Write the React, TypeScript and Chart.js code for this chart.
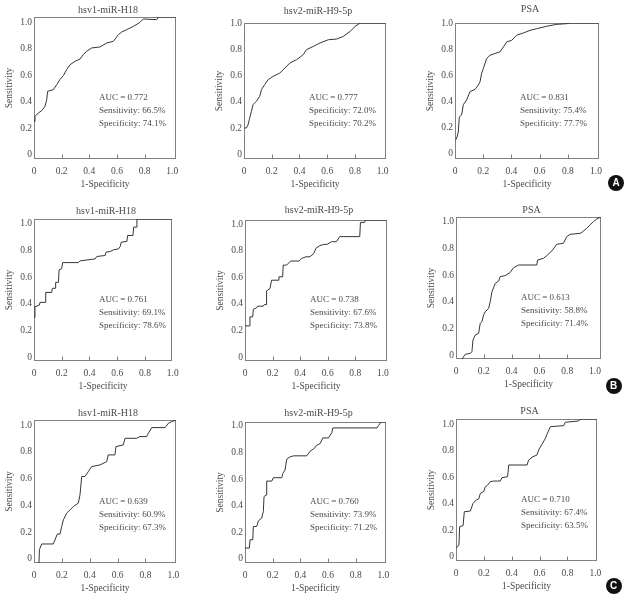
import React, { useEffect, useRef } from 'react';
import { Chart, registerables } from 'chart.js';

Chart.register(...registerables);

// ---------- axis ticks ----------
const TICK_VALUES = [0, 0.2, 0.4, 0.6, 0.8, 1.0];
const TICK_LABELS = ['0', '0.2', '0.4', '0.6', '0.8', '1.0'];
const INNER_TICK_VALUES = [0.2, 0.4, 0.6, 0.8];

// ---------- categories ----------
const MARKERS = ['hsv1-miR-H18', 'hsv2-miR-H9-5p', 'PSA'];
const COHORT_LABELS = ['A', 'B', 'C'];

// ---------- annotation values (row-major: A1..A3, B1..B3, C1..C3) ----------
const AUC = [0.772, 0.777, 0.831, 0.761, 0.738, 0.613, 0.639, 0.76, 0.71];
const LINE2 = [
  'Sensitivity: 66.5%', 'Specificity: 72.0%', 'Sensitivity: 75.4%',
  'Sensitivity: 69.1%', 'Sensitivity: 67.6%', 'Sensitivity: 58.8%',
  'Sensitivity: 60.9%', 'Sensitivity: 73.9%', 'Sensitivity: 67.4%',
];
const LINE3 = [
  'Specificity: 74.1%', 'Specificity: 70.2%', 'Specificity: 77.7%',
  'Specificity: 78.6%', 'Specificity: 73.8%', 'Specificity: 71.4%',
  'Specificity: 67.3%', 'Specificity: 71.2%', 'Specificity: 63.5%',
];

// ---------- ROC curves ----------
const A1_FPR = [0, 0.007, 0.03, 0.054, 0.077, 0.09, 0.096, 0.136, 0.16, 0.183, 0.207, 0.23, 0.254, 0.289, 0.324, 0.347, 0.37, 0.406, 0.465, 0.512, 0.559, 0.594, 0.617, 0.653, 0.7, 0.746, 0.77, 0.864, 0.876, 1];
const A1_TPR = [0.265, 0.3, 0.324, 0.34, 0.37, 0.42, 0.477, 0.488, 0.523, 0.56, 0.587, 0.63, 0.664, 0.688, 0.704, 0.735, 0.758, 0.782, 0.789, 0.817, 0.829, 0.876, 0.894, 0.911, 0.934, 0.962, 0.986, 0.981, 1, 1];

const A2_FPR = [0, 0.017, 0.028, 0.04, 0.052, 0.064, 0.087, 0.11, 0.123, 0.146, 0.17, 0.205, 0.252, 0.288, 0.323, 0.37, 0.417, 0.44, 0.488, 0.535, 0.594, 0.653, 0.7, 0.748, 0.783, 0.818, 1];
const A2_TPR = [0.228, 0.228, 0.25, 0.3, 0.35, 0.4, 0.424, 0.46, 0.51, 0.547, 0.583, 0.608, 0.632, 0.669, 0.706, 0.73, 0.767, 0.804, 0.828, 0.853, 0.877, 0.882, 0.902, 0.939, 0.975, 1, 1];

const A3_FPR = [0.005, 0.012, 0.023, 0.03, 0.046, 0.058, 0.081, 0.104, 0.139, 0.162, 0.174, 0.185, 0.197, 0.22, 0.243, 0.278, 0.312, 0.336, 0.359, 0.394, 0.428, 0.475, 0.521, 0.567, 0.637, 0.706, 0.775, 0.8, 1];
const A3_TPR = [0.141, 0.154, 0.2, 0.31, 0.324, 0.4, 0.434, 0.495, 0.512, 0.544, 0.568, 0.63, 0.666, 0.739, 0.763, 0.776, 0.788, 0.824, 0.861, 0.873, 0.91, 0.927, 0.946, 0.958, 0.976, 0.99, 0.995, 1, 1];

const B1_FPR = [0, 0.007, 0.007, 0.039, 0.044, 0.08, 0.085, 0.128, 0.133, 0.153, 0.157, 0.177, 0.182, 0.2, 0.208, 0.322, 0.334, 0.443, 0.455, 0.516, 0.523, 0.552, 0.576, 0.613, 0.625, 0.632, 0.673, 0.678, 0.717, 0.722, 0.741, 0.746, 1];
const B1_TPR = [0.307, 0.307, 0.382, 0.394, 0.413, 0.413, 0.483, 0.483, 0.512, 0.512, 0.554, 0.554, 0.642, 0.649, 0.693, 0.693, 0.705, 0.719, 0.736, 0.743, 0.767, 0.771, 0.783, 0.79, 0.807, 0.837, 0.842, 0.884, 0.884, 0.943, 0.943, 1, 1];

const B2_FPR = [0, 0.03, 0.035, 0.054, 0.059, 0.082, 0.089, 0.129, 0.136, 0.148, 0.152, 0.176, 0.187, 0.234, 0.239, 0.265, 0.269, 0.293, 0.321, 0.382, 0.398, 0.429, 0.457, 0.485, 0.499, 0.527, 0.555, 0.578, 0.609, 0.644, 0.667, 0.808, 0.813, 0.843, 0.848, 1];
const B2_TPR = [0.249, 0.249, 0.313, 0.313, 0.367, 0.377, 0.389, 0.389, 0.4, 0.4, 0.498, 0.514, 0.573, 0.573, 0.597, 0.597, 0.68, 0.68, 0.709, 0.709, 0.727, 0.739, 0.739, 0.763, 0.799, 0.818, 0.827, 0.827, 0.846, 0.846, 0.882, 0.882, 0.983, 0.983, 1, 1];

const B3_FPR = [0.041, 0.064, 0.099, 0.11, 0.117, 0.133, 0.156, 0.167, 0.179, 0.19, 0.202, 0.225, 0.236, 0.248, 0.271, 0.294, 0.305, 0.339, 0.374, 0.397, 0.431, 0.557, 0.562, 0.603, 0.626, 0.661, 0.695, 0.741, 0.764, 0.787, 0.856, 0.874, 0.901, 0.924, 0.947, 0.97, 1];
const B3_TPR = [0, 0.033, 0.04, 0.052, 0.134, 0.169, 0.181, 0.251, 0.263, 0.31, 0.333, 0.357, 0.404, 0.474, 0.533, 0.549, 0.58, 0.587, 0.61, 0.643, 0.662, 0.662, 0.697, 0.709, 0.728, 0.761, 0.808, 0.815, 0.862, 0.878, 0.885, 0.897, 0.92, 0.944, 0.967, 0.986, 1];

const C1_FPR = [0.035, 0.038, 0.054, 0.136, 0.164, 0.183, 0.195, 0.207, 0.23, 0.254, 0.277, 0.312, 0.324, 0.336, 0.359, 0.383, 0.406, 0.465, 0.512, 0.523, 0.57, 0.577, 0.629, 0.641, 0.723, 0.746, 0.793, 0.805, 0.829, 0.923, 0.946, 0.969, 1];
const C1_TPR = [0, 0.093, 0.133, 0.133, 0.202, 0.202, 0.256, 0.302, 0.349, 0.372, 0.395, 0.419, 0.477, 0.605, 0.605, 0.64, 0.674, 0.686, 0.709, 0.756, 0.756, 0.814, 0.826, 0.872, 0.872, 0.884, 0.884, 0.907, 0.947, 0.947, 0.977, 0.988, 1];

const C2_FPR = [0, 0.031, 0.036, 0.055, 0.059, 0.083, 0.095, 0.118, 0.13, 0.135, 0.149, 0.154, 0.19, 0.201, 0.261, 0.268, 0.284, 0.296, 0.32, 0.344, 0.438, 0.462, 0.491, 0.509, 0.533, 0.552, 0.592, 0.616, 0.623, 0.936, 0.948, 0.964, 1];
const C2_TPR = [0.106, 0.106, 0.165, 0.165, 0.259, 0.259, 0.299, 0.318, 0.365, 0.471, 0.482, 0.581, 0.581, 0.605, 0.605, 0.635, 0.659, 0.736, 0.753, 0.76, 0.76, 0.793, 0.812, 0.835, 0.847, 0.887, 0.887, 0.925, 0.958, 0.958, 0.976, 1, 1];

const C3_FPR = [0, 0.012, 0.021, 0.026, 0.05, 0.059, 0.102, 0.121, 0.144, 0.161, 0.173, 0.196, 0.208, 0.225, 0.243, 0.267, 0.314, 0.326, 0.366, 0.374, 0.504, 0.515, 0.546, 0.574, 0.586, 0.61, 0.634, 0.645, 0.669, 0.764, 0.775, 0.87, 0.882, 1];
const C3_TPR = [0.094, 0.101, 0.117, 0.242, 0.249, 0.347, 0.352, 0.406, 0.43, 0.437, 0.477, 0.488, 0.523, 0.535, 0.559, 0.563, 0.563, 0.587, 0.594, 0.676, 0.676, 0.711, 0.735, 0.746, 0.782, 0.822, 0.864, 0.892, 0.946, 0.953, 0.977, 0.986, 1, 1];

const CURVES = [
  [A1_FPR, A1_TPR], [A2_FPR, A2_TPR], [A3_FPR, A3_TPR],
  [B1_FPR, B1_TPR], [B2_FPR, B2_TPR], [B3_FPR, B3_TPR],
  [C1_FPR, C1_TPR], [C2_FPR, C2_TPR], [C3_FPR, C3_TPR],
];

// ---------- layout (page px) ----------
const LAYOUT = [
  { box: [34, 17, 176, 159], titleY: 10, xMax: 1.027, yMin: -0.033, yMax: 1.041 },
  { box: [244, 23, 386, 159], titleY: 11, xMax: 1.024, yMin: -0.033, yMax: 1.0 },
  { box: [455, 23, 599, 159], titleY: 9, xMax: 1.021, yMin: -0.041, yMax: 1.0 },
  { box: [34, 219, 172, 361], titleY: 211.5, xMax: 0.995, yMin: -0.03, yMax: 1.037 },
  { box: [245, 220, 387, 361], titleY: 210, xMax: 1.03, yMin: -0.03, yMax: 1.033 },
  { box: [456, 217, 601, 359], titleY: 210, xMax: 1.043, yMin: -0.03, yMax: 1.035 },
  { box: [34, 420, 176, 563], titleY: 413, xMax: 1.019, yMin: -0.032, yMax: 1.039 },
  { box: [245, 422, 386, 563], titleY: 413, xMax: 1.019, yMin: -0.033, yMax: 1.03 },
  { box: [456, 419, 597, 561], titleY: 411.5, xMax: 1.012, yMin: -0.033, yMax: 1.041 },
];
const CIRCLES = [
  { x: 616, y: 183 },
  { x: 613.5, y: 385.5 },
  { x: 613.5, y: 586 },
];

const LM = 34, TM = 22, RM = 10, BM = 34;
const SERIF = '"Liberation Serif", "Times New Roman", serif';
const TEXT = '#4a4a4a';
const BOX = '#808080';
const CURVE = '#353535';

function Panel({ idx }: { idx: number }) {
  const ref = useRef<HTMLCanvasElement | null>(null);
  const L = LAYOUT[idx];
  const [bl, bt, br, bb] = L.box;
  const W = br - bl + LM + RM;
  const H = bb - bt + TM + BM;
  const canvasLeft = bl - LM;
  const canvasTop = bt - TM;

  useEffect(() => {
    const [fpr, tpr] = CURVES[idx];
    const points = fpr.map((x, i) => ({ x, y: tpr[i] }));
    const title = MARKERS[idx % 3];
    const lines = ['AUC = ' + AUC[idx].toFixed(3), LINE2[idx], LINE3[idx]];

    const deco = {
      id: 'deco',
      beforeDatasetsDraw(chart: any) {
        const { ctx, chartArea } = chart;
        const { left, top, right, bottom } = chartArea;
        ctx.save();
        ctx.strokeStyle = BOX;
        ctx.lineWidth = 1;
        ctx.strokeRect(left + 0.5, top + 0.5, right - left - 1, bottom - top - 1);
        const xl = chart.scales.xl;
        ctx.beginPath();
        for (const v of INNER_TICK_VALUES) {
          const px = Math.round(xl.getPixelForValue(v)) + 0.5;
          ctx.moveTo(px, bottom - 0.5);
          ctx.lineTo(px, bottom - 4.5);
        }
        ctx.stroke();
        ctx.restore();
      },
      afterDraw(chart: any) {
        const { ctx, chartArea } = chart;
        const { left, right, bottom } = chartArea;
        ctx.save();
        ctx.fillStyle = TEXT;
        ctx.textBaseline = 'middle';
        ctx.textAlign = 'center';
        ctx.font = '10px ' + SERIF;
        ctx.fillText(title, (left + right) / 2 + 3, L.titleY - canvasTop);
        ctx.textAlign = 'left';
        ctx.font = '9px ' + SERIF;
        lines.forEach((t, i) => {
          ctx.fillText(t, left + 65, bottom - 61 + i * 13);
        });
        ctx.restore();
      },
    };

    const tickFont = { family: SERIF, size: 9.5 };
    const titleFont = { family: SERIF, size: 9.5 };

    const chart = new Chart(ref.current as HTMLCanvasElement, {
      type: 'line',
      data: {
        datasets: [
          {
            data: points,
            xAxisID: 'x',
            yAxisID: 'y',
            borderColor: CURVE,
            borderWidth: 1,
            pointRadius: 0,
            tension: 0,
            fill: false,
          },
        ],
      },
      options: {
        responsive: false,
        animation: false,
        devicePixelRatio: 1,
        layout: { padding: { left: 0, top: TM, right: RM, bottom: 0 } },
        plugins: { legend: { display: false }, tooltip: { enabled: false }, title: { display: false } },
        scales: {
          x: { type: 'linear', min: 0, max: 1, display: false },
          y: { type: 'linear', min: 0, max: 1, display: false },
          xl: {
            type: 'linear',
            axis: 'x',
            position: 'bottom',
            min: 0,
            max: L.xMax,
            afterBuildTicks: (s: any) => {
              s.ticks = TICK_VALUES.map((v) => ({ value: v }));
            },
            afterFit: (s: any) => {
              s.height = BM;
              s.paddingLeft = 0;
              s.paddingRight = 0;
            },
            grid: { display: false, drawTicks: false },
            border: { display: false },
            ticks: {
              autoSkip: false,
              maxRotation: 0,
              padding: 7,
              color: TEXT,
              font: tickFont,
              callback: (_v: any, i: number) => TICK_LABELS[i],
            },
            title: {
              display: true,
              text: '1-Specificity',
              color: TEXT,
              font: titleFont,
              padding: { top: 0, bottom: 3.3 },
            },
          },
          yl: {
            type: 'linear',
            axis: 'y',
            position: 'left',
            min: L.yMin,
            max: L.yMax,
            afterBuildTicks: (s: any) => {
              s.ticks = TICK_VALUES.map((v) => ({ value: v }));
            },
            afterFit: (s: any) => {
              s.width = LM;
              s.paddingTop = 0;
              s.paddingBottom = 0;
            },
            grid: { display: false, drawTicks: false },
            border: { display: false },
            ticks: {
              autoSkip: false,
              padding: 2,
              color: TEXT,
              font: tickFont,
              callback: (_v: any, i: number) => TICK_LABELS[i],
            },
            title: {
              display: true,
              text: 'Sensitivity',
              color: TEXT,
              font: titleFont,
              padding: { top: 3.3, bottom: 0 },
            },
          },
        },
      } as any,
      plugins: [deco],
    });
    return () => chart.destroy();
  }, []);

  return (
    <canvas
      ref={ref}
      width={W}
      height={H}
      style={{ position: 'absolute', left: canvasLeft, top: canvasTop, width: W, height: H }}
    />
  );
}

export default function App() {
  return (
    <div
      style={{
        position: 'absolute',
        left: 0,
        top: 0,
        width: 626,
        height: 597,
        background: '#fff',
        overflow: 'hidden',
      }}
    >
      {LAYOUT.map((_, i) => (
        <Panel key={i} idx={i} />
      ))}
      {COHORT_LABELS.map((c, i) => (
        <div
          key={c}
          style={{
            position: 'absolute',
            left: CIRCLES[i].x - 8,
            top: CIRCLES[i].y - 8,
            width: 16,
            height: 16,
            borderRadius: '50%',
            background: '#111',
            color: '#fff',
            fontFamily: '"Liberation Sans", Arial, sans-serif',
            fontWeight: 700,
            fontSize: 10,
            lineHeight: '16px',
            textAlign: 'center',
          }}
        >
          {c}
        </div>
      ))}
    </div>
  );
}
